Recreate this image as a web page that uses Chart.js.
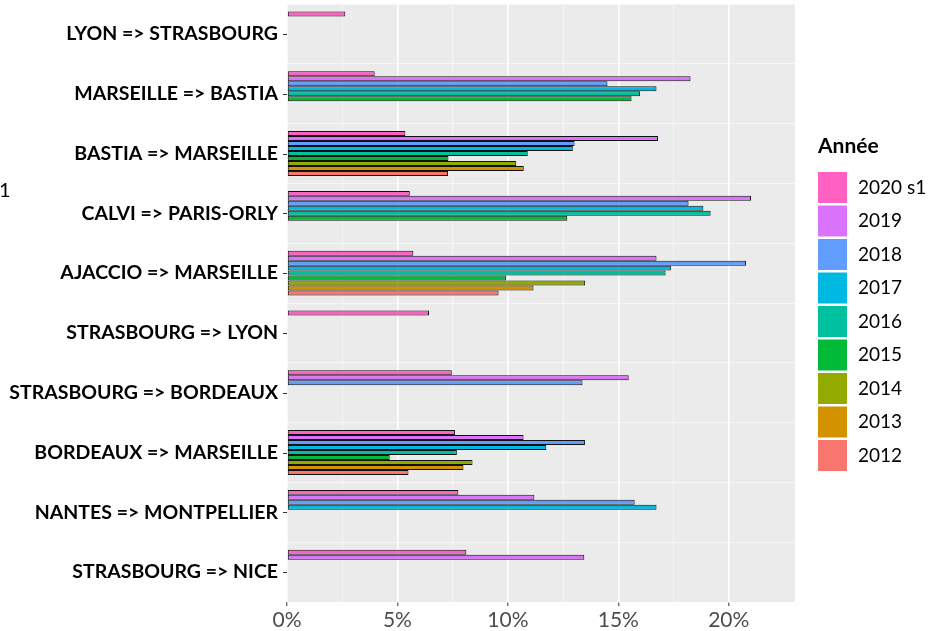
<!DOCTYPE html>
<html>
<head>
<meta charset="utf-8">
<script src="https://cdn.jsdelivr.net/npm/chart.js@4/dist/chart.umd.min.js"></script>
<style>
  body { margin: 0; background: #fff; }
</style>
</head>
<body>
<canvas id="routesChart" width="935" height="631"></canvas>
<script>
// routes, top to bottom
const routes = [
  "LYON => STRASBOURG",
  "MARSEILLE => BASTIA",
  "BASTIA => MARSEILLE",
  "CALVI => PARIS-ORLY",
  "AJACCIO => MARSEILLE",
  "STRASBOURG => LYON",
  "STRASBOURG => BORDEAUX",
  "BORDEAUX => MARSEILLE",
  "NANTES => MONTPELLIER",
  "STRASBOURG => NICE",
];

const years = ["2020 s1", "2019", "2018", "2017", "2016", "2015", "2014", "2013", "2012"];
const yearColors = ["#FF61C3", "#DB72FB", "#619CFF", "#00B9E3", "#00C19F", "#00BA38", "#93AA00", "#D39200", "#F8766D"];

// share in %, one value per route (null = no data that year)
const share2020s1 = [2.64, 3.97, 5.36, 5.56, 5.72, 6.43, 7.46, 7.61, 7.76, 8.12];
const share2019 = [null, 18.27, 16.8, 21.01, 16.73, null, 15.47, 10.71, 11.2, 13.46];
const share2018 = [null, 14.51, 13.02, 18.18, 20.78, null, 13.38, 13.49, 15.74, null];
const share2017 = [null, 16.73, 12.94, 18.85, 17.38, null, null, 11.74, 16.73, null];
const share2016 = [null, 15.98, 10.9, 19.18, 17.14, null, null, 7.69, null, null];
const share2015 = [null, 15.6, 7.31, 12.69, 9.91, null, null, 4.65, null, null];
const share2014 = [null, null, 10.38, null, 13.5, null, null, 8.4, null, null];
const share2013 = [null, null, 10.72, null, 11.16, null, null, 7.99, null, null];
const share2012 = [null, null, 7.29, null, 9.58, null, null, 5.5, null, null];

const shares = [share2020s1, share2019, share2018, share2017, share2016, share2015, share2014, share2013, share2012];

const isMajor = (v) => Math.abs(v % 5) < 1e-6;

// grey ggplot panel
const panelBg = {
  id: "panelBg",
  beforeDraw(chart) {
    const { ctx, chartArea: a } = chart;
    ctx.save();
    ctx.fillStyle = "#EBEBEB";
    ctx.fillRect(a.left, a.top, a.right - a.left, a.bottom - a.top);
    ctx.restore();
  },
};

// small tick marks at the route centres
const yTickMarks = {
  id: "yTickMarks",
  afterDraw(chart) {
    const { ctx, chartArea: a } = chart;
    const y = chart.scales.y;
    ctx.save();
    ctx.strokeStyle = "#333";
    ctx.lineWidth = 1;
    y.ticks.forEach((t, i) => {
      const py = Math.round(y.getPixelForTick(i)) + 0.5;
      ctx.beginPath();
      ctx.moveTo(a.left - 4, py);
      ctx.lineTo(a.left, py);
      ctx.stroke();
    });
    ctx.restore();
  },
};

// legend "Année" drawn like ggplot's
const anneeLegend = {
  id: "anneeLegend",
  afterDraw(chart) {
    const ctx = chart.ctx;
    const left = chart.chartArea.right + 23;
    ctx.save();
    ctx.textBaseline = "middle";
    ctx.fillStyle = "#000";
    ctx.font = "bold 21px Lato";
    ctx.fillText("Année", left, 146);
    ctx.font = "19px Lato";
    chart.data.datasets.forEach((ds, i) => {
      const top = 172 + i * 33.5;
      ctx.fillStyle = ds.backgroundColor;
      ctx.fillRect(left, top, 29, 31);
      ctx.fillStyle = "#000";
      ctx.fillText(ds.label, left + 40, top + 15.5);
    });
    // cut-off text at the left edge
    ctx.font = "20px Lato";
    ctx.fillText("1", -1, 191);
    ctx.restore();
  },
};

const ctx = document.getElementById("routesChart").getContext("2d");
new Chart(ctx, {
  type: "bar",
  data: {
    labels: routes,
    datasets: years.map((year, i) => ({
      label: year,
      data: shares[i],
      backgroundColor: yearColors[i],
      borderColor: "#111",
      borderWidth: 1,
      borderSkipped: false,
      categoryPercentage: 0.75,
      barPercentage: 1,
    })),
  },
  options: {
    indexAxis: "y",
    responsive: false,
    animation: false,
    layout: { padding: { top: 4, right: 140, left: 0, bottom: 0 } },
    font: { family: "Lato" },
    plugins: {
      legend: { display: false },
      tooltip: { enabled: false },
    },
    scales: {
      x: {
        min: 0,
        max: 23,
        border: { display: false },
        afterBuildTicks: (scale) => {
          scale.ticks = scale.ticks.filter((t) => t.value <= 22.5);
        },
        afterFit: (scale) => {
          scale.height = 29;
          scale.paddingLeft = 0;
          scale.paddingRight = 0;
        },
        ticks: {
          stepSize: 2.5,
          autoSkip: false,
          maxRotation: 0,
          padding: 2,
          color: "#4D4D4D",
          font: { family: "Lato", size: 21 },
          callback: (v) => (isMajor(v) ? v + "%" : ""),
        },
        grid: {
          color: (c) => (c.tick && isMajor(c.tick.value) ? "#ffffff" : "rgba(255,255,255,0.6)"),
          lineWidth: (c) => (c.tick && isMajor(c.tick.value) ? 1.6 : 0.8),
          tickColor: (c) => (c.tick && isMajor(c.tick.value) ? "#333" : "rgba(0,0,0,0)"),
          tickWidth: 1,
          tickLength: 4,
        },
      },
      y: {
        border: { display: false },
        afterFit: (scale) => {
          scale.width = 287;
          scale.paddingTop = 0;
          scale.paddingBottom = 0;
        },
        ticks: {
          padding: 9,
          color: "#000",
          font: { family: "Lato", size: 19.5, weight: "bold" },
        },
        grid: {
          color: "rgba(255,255,255,0.6)",
          lineWidth: 1,
          drawTicks: false,
        },
      },
    },
  },
  plugins: [panelBg, yTickMarks, anneeLegend],
});
</script>
</body>
</html>
